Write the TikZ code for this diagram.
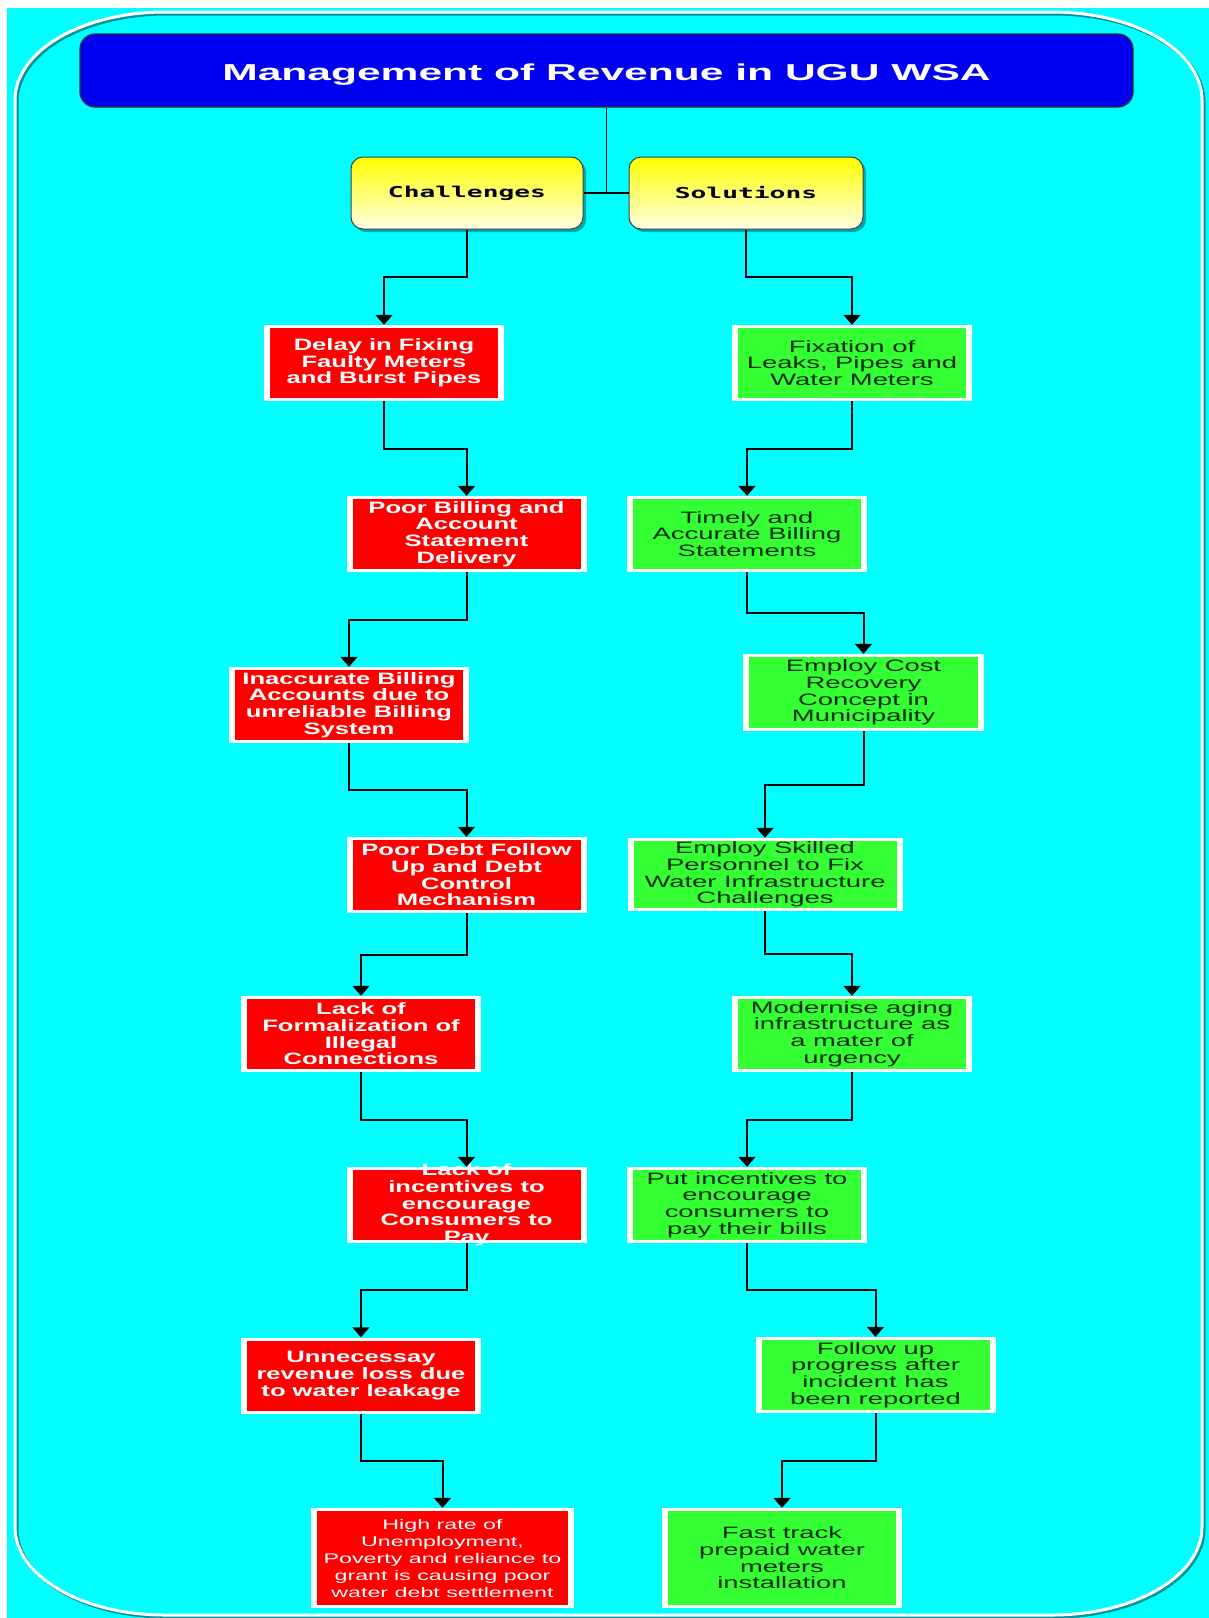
\documentclass[tikz,border=0pt]{standalone}
\usepackage{fontspec}
\usepackage{tikz}
\usetikzlibrary{arrows.meta, calc, shadows}
\setmainfont{Liberation Sans}
\newfontfamily\probfont{Liberation Sans}[FakeStretch=1.55]
\newfontfamily\fixfont{Liberation Sans}[FakeStretch=1.66]
\newfontfamily\headfont{DejaVu Sans Mono}[FakeStretch=1.75]
\newfontfamily\bannerfont{Liberation Sans}[FakeStretch=1.85]
\definecolor{SkyCyan}{RGB}{0,255,255}
\definecolor{FrameTeal}{RGB}{0,150,155}
\definecolor{TitleBlue}{RGB}{0,0,240}
\definecolor{ProbRed}{RGB}{255,0,0}
\definecolor{FixGreen}{RGB}{51,255,51}
\definecolor{FixText}{RGB}{0,45,0}
\definecolor{HeadYellow}{RGB}{255,255,0}
\definecolor{HeadPale}{RGB}{255,255,228}

\begin{document}
\begin{tikzpicture}[x=1pt, y=-1pt,
    boxed/.style={rectangle, fill=white, inner sep=0pt, align=center,
                  minimum width=240pt, minimum height=76pt,
                  path picture={\fill[#1]
                    ([xshift=6pt,yshift=3pt]path picture bounding box.south west) rectangle
                    ([xshift=-6pt,yshift=-3pt]path picture bounding box.north east);}},
    prob/.style={boxed=ProbRed, text=white,
                 font=\probfont\bfseries\fontsize{16.5pt}{16.7pt}\selectfont},
    fix/.style={boxed=FixGreen, text=FixText,
                font=\fixfont\fontsize{16.5pt}{16.7pt}\selectfont},
    head/.style={rectangle, rounded corners=12pt, draw=black!75, line width=1pt,
                 top color=HeadYellow, bottom color=HeadPale,
                 minimum width=232pt, minimum height=72pt,
                 font=\headfont\bfseries\fontsize{15pt}{17pt}\selectfont,
                 drop shadow={shadow xshift=3pt, shadow yshift=-3pt,
                              fill=FrameTeal, opacity=0.8}},
    banner/.style={rectangle, rounded corners=15pt, draw=black!80, line width=1.2pt,
                   fill=TitleBlue, minimum width=1053pt, minimum height=73pt,
                   text=white, font=\bannerfont\bfseries\fontsize{23pt}{26pt}\selectfont},
    link/.style={draw=black, line width=2pt},
    arr/.style={link, -{Triangle[width=17pt,length=10pt]}}
  ]
  \useasboundingbox (0,0) rectangle (1209,1618);
  \fill[white] (0,0) rectangle (1209,1618);
  \fill[SkyCyan] (7,8) rectangle (1209,1618);
  % rounded frame with its shadow
  \foreach \c/\d in {FrameTeal/2, white/0}
    \draw[\c, line width=3pt, xshift=\d pt, yshift=-\d pt]
      (15,100) .. controls (15,51) and (82,12) .. (165,12) -- (1052,12)
      .. controls (1135,12) and (1202,51) .. (1202,100) -- (1202,1527)
      .. controls (1202,1576) and (1135,1615) .. (1052,1615) -- (165,1615)
      .. controls (82,1615) and (15,1576) .. (15,1527) -- cycle;

  \node[banner] (title) at (606.5,70.5)
    {\raisebox{-4pt}[\height][\depth]{Management of Revenue in UGU WSA}};
  \node[head] (cs) at (467,193) {Challenges};
  \node[head, minimum width=234pt] (sol) at (746,193) {Solutions};
  \coordinate (hub) at (title.south |- cs.east);
  \draw[link, line width=1.6pt] (title.south) -- (hub);
  \draw[link, line width=1.6pt] (cs.east) -- (sol.west);

  % challenges
  \node[prob] (c1) at (384,363) {Delay in Fixing\\Faulty Meters\\and Burst Pipes};
  \node[prob] (c2) at (466.5,534) {Poor Billing and\\Account\\Statement\\Delivery};
  \node[prob] (c3) at (349,705) {Inaccurate Billing\\Accounts due to\\unreliable Billing\\System};
  \node[prob] (c4) at (466.5,875) {Poor Debt Follow\\Up and Debt\\Control\\Mechanism};
  \node[prob] (c5) at (361,1034) {Lack of\\Formalization of\\Illegal\\Connections};
  \node[prob, inner ysep=-3.5pt] (c6) at (466.5,1205)
    {Lack of\\incentives to\\encourage\\Consumers to\\Pay};
  \node[prob] (c7) at (361,1375.5) {Unnecessay\\revenue loss due\\to water leakage};
  \node[prob, minimum width=263pt, minimum height=100pt,
        font=\fixfont\fontsize{14pt}{17pt}\selectfont] (c8) at (442.5,1558)
    {High rate of\\Unemployment,\\Poverty and reliance to\\grant is causing poor\\water debt settlement};

  % solutions
  \node[fix] (s1) at (852,363) {Fixation of\\Leaks, Pipes and\\Water Meters};
  \node[fix] (s2) at (747,534) {Timely and\\Accurate Billing\\Statements};
  \node[fix, minimum width=241pt, minimum height=77pt] (s3) at (863.5,692.5)
    {Employ Cost\\Recovery\\Concept in\\Municipality};
  \node[fix, minimum width=275pt, minimum height=73pt] (s4) at (765,874.5)
    {Employ Skilled\\Personnel to Fix\\Water Infrastructure\\Challenges};
  \node[fix] (s5) at (852,1034) {Modernise aging\\infrastructure as\\a mater of\\urgency};
  \node[fix] (s6) at (747,1205) {Put incentives to\\encourage\\consumers to\\pay their bills};
  \node[fix] (s7) at (875.5,1375) {Follow up\\progress after\\incident has\\been reported};
  \node[fix, minimum height=100pt] (s8) at (782,1558)
    {Fast track\\prepaid water\\meters\\installation};

  \foreach \a/\b in {cs/c1, c1/c2, c2/c3, c3/c4, c4/c5, c5/c6, c6/c7, c7/c8,
                     sol/s1, s1/s2, s2/s3, s3/s4, s4/s5, s5/s6, s6/s7, s7/s8}
    \draw[arr] (\a.south) |- ($(\a.south)!0.5!(\b.north)$) -| (\b.north);
\end{tikzpicture}
\end{document}
